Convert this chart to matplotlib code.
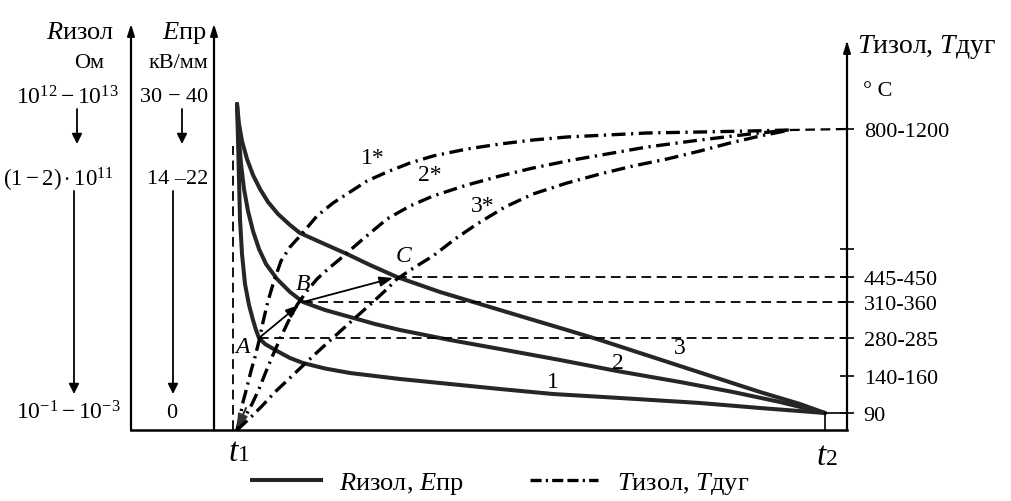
import matplotlib
matplotlib.use('Agg')
import matplotlib.pyplot as plt
import matplotlib.patches as mpatches
from matplotlib.lines import Line2D

W, H = 1011, 502
plt.rcParams['font.family'] = ['Liberation Serif', 'DejaVu Serif']
plt.rcParams['mathtext.fontset'] = 'custom'
plt.rcParams['mathtext.rm'] = 'Liberation Serif'
plt.rcParams['mathtext.it'] = 'Liberation Serif:italic'
plt.rcParams['lines.scale_dashes'] = False

# ---- data (time in arbitrary units, t1 = 0, t2 = 588; vertical in relative level units) ----
T1, T2 = 0, 588
curve1_t = [0, 1, 2, 3, 5, 8, 12, 16, 19, 22, 28, 40, 53, 66, 88, 113, 163, 213, 263, 316, 383, 463, 523, 588]
curve1_v = [326, 291, 251, 211, 176, 146, 125, 110, 100, 92, 86, 79, 72, 67, 61.5, 57, 51, 46, 41, 36, 32, 27, 22, 17]
curve2_t = [0, 2, 4, 7, 11, 16, 22, 29, 40, 53, 66, 88, 113, 138, 163, 213, 263, 323, 380, 443, 496, 543, 588]
curve2_v = [326, 291, 266, 241, 219, 199, 181, 166, 151, 138, 128, 120, 113, 106, 100, 90, 81, 70, 59, 48, 38, 28, 17]
curve3_t = [0, 2, 5, 10, 16, 23, 31, 41, 53, 63, 83, 110, 133, 160, 203, 243, 283, 330, 363, 403, 443, 483, 523, 563, 588]
curve3_v = [326, 306, 289, 271, 255, 241, 228, 216, 205, 197, 188, 176, 165, 153, 138, 126, 114, 100, 90, 77, 64, 51, 38, 26, 17]

temp1_t = [0, 3, 6, 10, 14, 18, 22, 26, 31, 37, 44, 53, 63, 80, 96, 113, 130, 150, 173, 196, 230, 263, 296, 330, 370, 410, 463, 513, 553]
temp1_v = [0, 13, 28, 43, 59, 73, 89, 108, 129, 149, 169, 183, 194, 214, 227, 238, 249, 258, 267, 274, 281, 286, 290, 293, 295, 297, 298, 299, 300]
temp2_t = [0, 8, 15, 22, 28, 35, 43, 51, 60, 70, 80, 91, 103, 126, 150, 173, 196, 230, 263, 296, 330, 370, 410, 463, 513, 553]
temp2_v = [0, 13, 26, 41, 56, 73, 91, 108, 125, 139, 151, 161, 171, 191, 211, 224, 234, 245, 254, 262, 269, 276, 283, 290, 296, 300]
temp3_t = [0, 13, 25, 38, 55, 75, 98, 118, 136, 150, 160, 178, 196, 218, 240, 268, 296, 330, 363, 396, 430, 463, 493, 523, 553]
temp3_v = [0, 12, 24, 38, 54, 73, 94, 112, 128, 141, 151, 163, 174, 191, 206, 223, 236, 247, 256, 264, 271, 279, 287, 294, 300]

tick_levels = [17, 54, 92, 128, 153, 181, 301]
tick_labels = ['90', '140-160', '280-285', '310-360', '445-450', '', '800-1200']

point_names = ['A', 'B', 'C']
point_t = [22, 66, 160]
point_v = [92, 128, 153]

# ---- figure ----
fig = plt.figure(figsize=(W / 100, H / 100), dpi=100)
ax = fig.add_axes([131 / W, (H - 431) / H, (847 - 131) / W, (431 - 45) / H])
ax.set_xlim(-106, 610)
ax.set_ylim(0, 386)
for s in ['top', 'left']:
    ax.spines[s].set_visible(False)
ax.spines['right'].set_linewidth(1.6)
ax.spines['bottom'].set_linewidth(1.8)
ax.set_xticks([])
ax.yaxis.tick_right()
ax.set_yticks(tick_levels)
ax.set_yticklabels(tick_labels)
ax.tick_params(axis='y', direction='inout', length=10, width=1.2, labelsize=16, pad=7)

# left axes (R and E)
R_X, E_X = -106, -23
head = '-|>,head_length=0.7,head_width=0.22'
for xx in (R_X, E_X):
    ax.plot([xx, xx], [0, 400], color='k', lw=1.6, clip_on=False)
    ax.annotate('', xy=(xx, 406), xytext=(xx, 385),
                arrowprops=dict(arrowstyle=head, color='k', lw=1.4, shrinkA=0, shrinkB=0),
                annotation_clip=False)
ax.annotate('', xy=(610, 389), xytext=(610, 370),
            arrowprops=dict(arrowstyle=head, color='k', lw=1.4, shrinkA=0, shrinkB=0),
            annotation_clip=False)

# solid curves
for tt, vv in ((curve1_t, curve1_v), (curve2_t, curve2_v), (curve3_t, curve3_v)):
    ax.plot(tt, vv, color='#262626', lw=2.9, solid_capstyle='round', solid_joinstyle='round')

# dash-dot temperature curves
dd = (0, (10, 4, 1.6, 4))
for tt, vv in ((temp1_t, temp1_v), (temp2_t, temp2_v), (temp3_t, temp3_v)):
    ax.plot(tt, vv, color='k', lw=2.4, ls=dd, dash_capstyle='butt')
ax.plot([temp1_t[-1], 610], [temp1_v[-1], tick_levels[-1]], color='k', lw=1.6, ls=(0, (7, 4)))

# dashed horizontal levels from A, B, C
for tt, vv in zip(point_t, point_v):
    ax.plot([tt, 610], [vv, vv], color='k', lw=1.3, ls=(0, (7, 4)))
# dashed vertical at t1
ax.plot([-4, -4], [0, 284], color='k', lw=1.3, ls=(0, (7, 4)))
# t2 marker and 90 line
ax.plot([T2, T2], [0, 17], color='k', lw=1.2)
ax.plot([T2, 610], [17, 17], color='k', lw=1.2)

# arrows A->B, B->C
small = '-|>,head_length=0.8,head_width=0.3'
ax.annotate('', xy=(point_t[1] - 4, point_v[1] - 3), xytext=(point_t[0], point_v[0]),
            arrowprops=dict(arrowstyle=small, color='k', lw=1.3, shrinkA=0, shrinkB=0))
ax.annotate('', xy=(point_t[2] - 4, point_v[2] - 1), xytext=(point_t[1], point_v[1]),
            arrowprops=dict(arrowstyle=small, color='k', lw=1.3, shrinkA=0, shrinkB=0))
# arrow at t1
ax.annotate('', xy=(T1, 2), xytext=(9, 22),
            arrowprops=dict(arrowstyle=small, color='#333333', lw=1.5, shrinkA=0, shrinkB=0),
            annotation_clip=False)

# point and curve labels
ax.text(5, 83, 'A', fontsize=17, style='italic', ha='center', va='center')
ax.text(66, 147, 'B', fontsize=17, style='italic', ha='center', va='center')
ax.text(167, 174, 'C', fontsize=17, style='italic', ha='center', va='center')
ax.text(316, 48, '1', fontsize=17, ha='center', va='center')
ax.text(381, 67, '2', fontsize=17, ha='center', va='center')
ax.text(443, 82, '3', fontsize=17, ha='center', va='center')
ax.text(136, 272, '1*', fontsize=17, ha='center', va='center')
ax.text(193, 255, '2*', fontsize=17, ha='center', va='center')
ax.text(246, 224, '3*', fontsize=17, ha='center', va='center')

# t1, t2 labels
ax.text(1, -30, 't', fontsize=24, style='italic', ha='right', va='baseline')
ax.text(1, -30, '1', fontsize=17, ha='left', va='baseline')
ax.text(589, -34, 't', fontsize=24, style='italic', ha='right', va='baseline')
ax.text(589, -34, '2', fontsize=17, ha='left', va='baseline')

# ---- left / right column texts (figure pixel positions) ----
def ftext(x, y, s, **kw):
    kw.setdefault('ha', 'center')
    kw.setdefault('va', 'center')
    kw.setdefault('fontsize', 16)
    fig.text(x / W, 1 - y / H, s, **kw)

ftext(80, 33, r'$R$изол', fontsize=19)
ftext(184, 33, r'$E$пр', fontsize=19)
ftext(89, 64, 'Ом')
ftext(178, 64, 'кВ/мм')
ftext(67, 98, r'$10^{12}-10^{13}$', fontsize=17)
ftext(174, 98, r'$30\,-\,40$')
ftext(58, 180, r'$(1-2)\cdot10^{11}$', fontsize=16.5)
ftext(178, 180, '14 –22')
ftext(68, 413, r'$10^{-1}-10^{-3}$', fontsize=17)
ftext(172, 413, '0')
ftext(857, 47, r'$T$изол, $T$дуг', ha='left', fontsize=20)
ftext(863, 92, '° C', ha='left')

def farrow(x, y0, y1):
    fig.add_artist(mpatches.FancyArrowPatch(
        (x / W, 1 - y0 / H), (x / W, 1 - y1 / H), transform=fig.transFigure,
        arrowstyle='-|>,head_length=6,head_width=3', mutation_scale=1,
        color='k', lw=1.3, shrinkA=0, shrinkB=0))

farrow(77, 110, 145)
farrow(182, 110, 145)
farrow(74, 192, 395)
farrow(173, 192, 395)

# legend
h1 = Line2D([], [], color='#262626', lw=2.9)
h2 = Line2D([], [], color='k', lw=2.4, ls=(0, (8, 3, 1.6, 3, 8, 3)))
fig.legend(handles=[h1, h2], labels=[r'$R$изол, $E$пр', r'$T$изол, $T$дуг'],
           loc='center left', bbox_to_anchor=(252 / W, 1 - 484 / H), ncol=2,
           frameon=False, fontsize=19, handlelength=2.6, handletextpad=0.7,
           columnspacing=2.5, borderpad=0, borderaxespad=0)

fig.savefig('out.png', dpi=100)
